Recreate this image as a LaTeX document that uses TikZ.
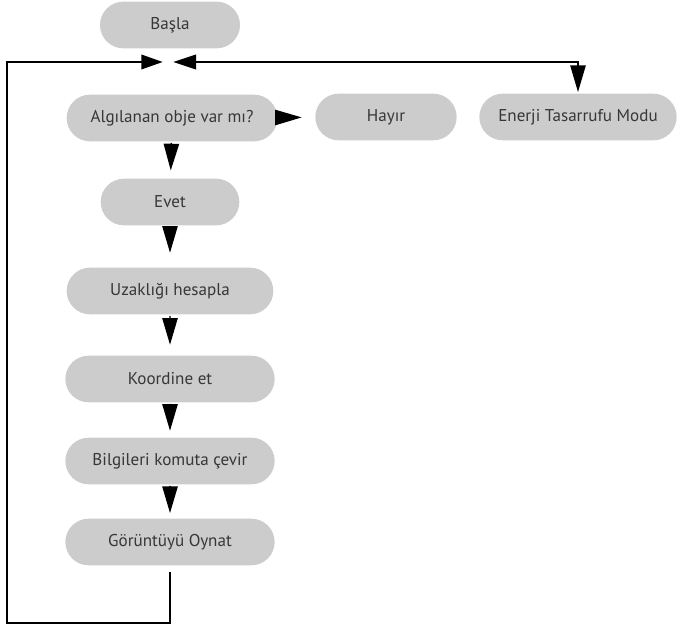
\documentclass[tikz,border=0pt]{standalone}
\usepackage{fontspec}
\setmainfont{PT Sans}
\usetikzlibrary{arrows.meta, shapes.misc, positioning}
\definecolor{boxcolor}{RGB}{204,204,204}
\definecolor{labelcolor}{RGB}{55,55,55}

\begin{document}
\begin{tikzpicture}[
    x=0.75pt, y=-0.75pt,
    stepbox/.style={rounded rectangle, fill=boxcolor, text=labelcolor, minimum height=35pt, inner sep=0pt, font=\fontsize{12.8}{14}\selectfont},
    flow/.style={-{Triangle[length=20pt, width=11.5pt]}, line width=1.1pt},
    both/.style={{Triangle[length=17pt, width=11pt]}-{Triangle[length=20pt, width=11.5pt]}, line width=1.1pt},
    back/.style={-{Triangle[length=16pt, width=11pt]}, line width=1.1pt}
]
    \useasboundingbox (0,0) rectangle (678,627);

    % Start
    \node[stepbox, minimum width=105pt] (start) at (170,25) {Başla};
    \coordinate (join) at (168,62);

    % Detection row
    \node[stepbox, minimum width=158pt] (detect) at (172,118) {Algılanan obje var mı?};
    \node[stepbox, minimum width=106pt] (no) at (386,117) {Hayır};
    \node[stepbox, minimum width=148pt] (energy) at (578,117) {Enerji Tasarrufu Modu};

    % Main column
    \node[stepbox, minimum width=104pt] (yes) at (170,202) {Evet};
    \node[stepbox, minimum width=155pt] (dist) at (170,291) {Uzaklığı hesapla};
    \node[stepbox, minimum width=157pt] (coord) at (170,379) {Koordine et};
    \node[stepbox, minimum width=157pt] (convert) at (170,461) {Bilgileri komuta çevir};
    \node[stepbox, minimum width=157pt] (play) at (170,542) {Görüntüyü Oynat};

    % Connectors
    \draw[flow, shorten >=10pt] (detect) -- (no);
    \draw[flow, shorten <=1pt, shorten >=6pt] (detect) -- (yes);
    \draw[flow, shorten <=1pt, shorten >=11pt] (yes) -- (dist);
    \draw[flow, shorten <=1pt, shorten >=8pt] (dist) -- (coord);
    \draw[flow, shorten <=1pt, shorten >=5pt] (coord) -- (convert);
    \draw[flow, shorten <=1pt, shorten >=4pt] (convert) -- (play);

    % Loop back and energy saving branch
    \draw[back, shorten <=5pt, shorten >=4pt] (play.south) |- (7,623) |- (join);
    \draw[both, shorten <=4pt, shorten >=1pt] (join) -| (energy.north);
\end{tikzpicture}
\end{document}
